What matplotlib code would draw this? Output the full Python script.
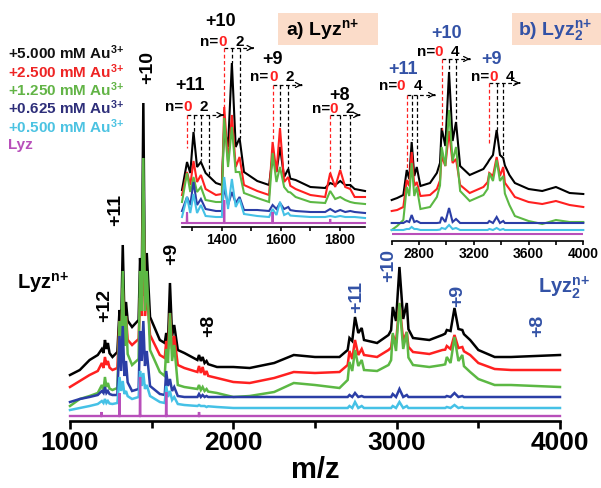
import numpy as np
import matplotlib
matplotlib.use("Agg")
import matplotlib.pyplot as plt
from matplotlib.patches import Rectangle

plt.rcParams['font.family'] = ['Liberation Sans', 'DejaVu Sans']
plt.rcParams['font.weight'] = 'bold'
plt.rcParams['mathtext.fontset'] = 'custom'
plt.rcParams['mathtext.rm'] = 'Liberation Sans:bold'
plt.rcParams['mathtext.it'] = 'Liberation Sans:bold'
plt.rcParams['mathtext.bf'] = 'Liberation Sans:bold'

W, H = 601, 488

# ---------------- data ----------------
conc_labels = ["+5.000 mM Au$^{3{+}}$", "+2.500 mM Au$^{3{+}}$", "+1.250 mM Au$^{3{+}}$",
               "+0.625 mM Au$^{3{+}}$", "+0.500 mM Au$^{3{+}}$", "Lyz"]
trace_colors = ["#000000", "#ff2020", "#5cb844", "#2b3ea6", "#45c1e6", "#b84fba"]
label_colors = ["#111111", "#ee2424", "#62b446", "#2e2f7a", "#4cc3e2", "#b84fba"]

# main panel: baseline / valley points and peak tops
main_grid = [1000, 1060, 1120, 1170, 1205, 1223, 1260, 1290, 1313, 1333, 1380, 1420, 1439,
             1459, 1490, 1550, 1580, 1600, 1625, 1660, 1700, 1780, 1801, 1824, 1900, 2000,
             2100, 2250, 2370, 2500, 2650, 2700, 2728, 2765, 2800, 2880, 2950, 2996, 3040,
             3100, 3200, 3280, 3330, 3378, 3450, 3500, 3600, 3700, 4000]
main_base = [
    [46, 51, 61, 66, 68, 72, 64, 69, 95, 105, 94, 101, 130, 125, 104, 81, 78, 80, 85, 71,
     68, 61, 60, 58, 54, 54, 53, 58, 66, 64, 64, 71, 80, 88, 81, 78, 86, 100, 102, 83,
     81, 86, 90, 92, 81, 71, 64, 64, 66],
    [34, 40, 46, 50, 53, 56, 51, 53, 80, 85, 76, 82, 105, 105, 86, 66, 63, 72, 72, 56,
     53, 49, 48, 46, 43, 39, 38, 43, 49, 48, 49, 56, 62, 66, 66, 64, 71, 78, 80, 69,
     67, 71, 72, 73, 66, 58, 52, 51, 51],
    [15, 22, 25, 28, 31, 34, 31, 33, 70, 75, 56, 62, 110, 110, 71, 49, 45, 58, 60, 36,
     34, 32, 31, 30, 28, 24, 25, 29, 38, 36, 33, 41, 50, 55, 51, 50, 56, 70, 72, 56,
     54, 56, 58, 60, 49, 42, 36, 36, 34],
    [19, 22, 24, 26, 28, 28, 26, 26, 50, 45, 30, 32, 60, 55, 35, 27, 26, 35, 30, 25,
     24, 24, 24, 24, 24, 24, 24, 24, 24, 24, 24, 24, 24, 24, 24, 24, 24, 24, 24, 24,
     24, 24, 24, 24, 24, 24, 24, 24, 24],
    [11, 13, 15, 17, 18, 18, 17, 18, 30, 27, 22, 24, 35, 32, 25, 19, 18, 24, 21, 17,
     16, 15, 15, 15, 14, 13, 13, 13, 13, 13, 13, 13, 13, 13, 13, 13, 13, 13, 13, 13,
     13, 13, 13, 13, 13, 13, 13, 13, 13],
]
main_peaks = [1195, 1214, 1232, 1303, 1323, 1343, 1429, 1449, 1470, 1589, 1612, 1638,
              1790, 1812, 1836, 2711, 2745, 2786, 2976, 3017, 3062, 3307, 3354, 3402]
main_tops = [
    [72, 81, 78, 111, 176, 119, 163, 318, 168, 88, 138, 96, 66, 64, 60,
     83, 104, 93, 114, 154, 118, 91, 113, 91],
    [58, 64, 60, 100, 133, 105, 123, 230, 130, 80, 108, 85, 55, 54, 50,
     70, 81, 72, 86, 118, 89, 75, 86, 74],
    [36, 44, 38, 100, 150, 105, 150, 263, 150, 72, 108, 76, 36, 34, 32,
     59, 71, 61, 88, 118, 89, 64, 84, 66],
    [30, 34, 30, 85, 95, 60, 90, 100, 70, 50, 42, 34, 27, 26, 25,
     26, 28, 25, 27, 32, 26, 25, 28, 25],
    [20, 22, 20, 44, 40, 30, 50, 48, 36, 35, 30, 24, 16, 15, 14,
     15, 19, 15, 15, 19, 15, 14, 16, 14],
]
lyz_level = [5, 4, 7]
lyz_mz = [1192, 1303, 1429, 1589, 1790]
lyz_main_top = [9, 28, 44, 29, 9]

mono_labels = ["+12", "+11", "+10", "+9", "+8"]
mono_lab_mz = [1214, 1282, 1478, 1625, 1851]
mono_lab_y = [116, 211, 354, 167, 95]
dimer_labels = ["+11", "+10", "+9", "+8"]
dimer_lab_mz = [2757, 2953, 3376, 3866]
dimer_lab_y = [124, 156, 125, 95]

# inset a) monomer region
a_grid = [1265, 1293, 1316, 1345, 1380, 1400, 1421, 1447, 1475, 1520, 1560, 1585, 1611,
          1650, 1700, 1750, 1784, 1818, 1850, 1885]
a_base = [
    [37, 54, 60, 54, 44, 42, 80, 80, 55, 46, 42, 55, 50, 47, 40, 39, 42, 42, 38, 36],
    [32, 42, 45, 38, 32, 33, 65, 60, 42, 36, 32, 55, 45, 38, 32, 30, 40, 40, 30, 30],
    [25, 35, 35, 27, 25, 25, 60, 55, 34, 29, 25, 45, 40, 30, 25, 24, 28, 27, 24, 23],
    [16, 22, 22, 18, 16, 16, 22, 24, 17, 17, 16, 18, 18, 16, 15, 15, 15, 15, 15, 14],
    [10, 14, 14, 11, 10, 10, 18, 20, 13, 11, 10, 12, 12, 11, 10, 10, 10, 10, 10, 9],
]
a_peaks = [1282, 1304, 1329, 1408, 1434, 1460, 1572, 1597, 1625, 1767, 1801, 1835]
a_tops = [
    [65, 95, 65, 100, 164, 89, 70, 80, 58, 44, 46, 42],
    [55, 66, 52, 120, 112, 70, 85, 99, 50, 54, 57, 38],
    [54, 50, 40, 109, 100, 55, 74, 60, 35, 36, 30, 25],
    [30, 45, 28, 40, 35, 30, 22, 24, 20, 18, 17, 16],
    [30, 33, 22, 50, 48, 28, 18, 25, 14, 11, 11, 10],
]
a_lyz_mz = [1282, 1408, 1572, 1767]
a_lyz_top = [15, 27, 15, 8]

a_charge = ["+11", "+10", "+9", "+8"]
a_charge_mz = [1293, 1394, 1571, 1797]
a_charge_y = [142, 206, 167, 132]
a_n_right = [1270, 1389, 1558, 1767]
a_zero_mz = [1284, 1401, 1574, 1778]
a_last_mz = [1338, 1461, 1631, 1834]
a_n_y = [120, 185, 150, 118]
a_arrow_y = [112, 179, 142, 112]
a_arrow_end = [1405, 1507, 1671, 1868]
a_guide_mz = [[1282, 1304, 1329, 1355], [1408, 1434, 1460], [1572, 1597, 1625], [1767, 1801, 1835]]
a_guide_low = [[79, 95, 67, 50], [117, 164, 89], [87, 99, 57], [52, 57, 40]]

# inset b) dimer region
b_grid = [2600, 2640, 2685, 2728, 2765, 2810, 2880, 2930, 2992, 3045, 3100, 3170, 3270,
          3340, 3391, 3460, 3500, 3600, 3700, 3800, 3900, 4000]
b_base = [
    [41, 43, 46, 62, 65, 55, 58, 68, 95, 100, 75, 66, 72, 86, 86, 66, 58, 52, 50, 54, 48, 47],
    [30, 31, 34, 55, 55, 45, 46, 52, 75, 78, 56, 48, 54, 65, 65, 52, 44, 39, 37, 40, 36, 34],
    [11, 15, 21, 45, 45, 32, 34, 44, 75, 80, 50, 40, 46, 60, 60, 36, 25, 20, 17, 21, 19, 19],
    [18, 18, 18, 19, 19, 18, 18, 18, 19, 19, 18, 18, 18, 18, 18, 18, 18, 18, 18, 18, 18, 18],
    [11, 11, 11, 12, 12, 11, 11, 11, 12, 12, 11, 11, 11, 11, 11, 11, 11, 11, 11, 11, 11, 11],
]
b_peaks = [2710, 2746, 2783, 2965, 3019, 3070, 3313, 3367, 3415]
b_tops = [
    [71, 99, 74, 113, 169, 119, 81, 111, 83],
    [61, 89, 59, 85, 110, 82, 68, 84, 74],
    [54, 78, 54, 94, 131, 94, 68, 81, 65],
    [20, 26, 20, 24, 33, 22, 20, 24, 20],
    [12, 14, 12, 13, 16, 13, 12, 13, 12],
]

b_charge = ["+11", "+10", "+9"]
b_charge_mz = [2685, 3002, 3330]
b_charge_y = [171, 208, 181]
b_n_right = [2637, 2916, 3313]
b_zero_mz = [2666, 2941, 3342]
b_last_mz = [2790, 3062, 3464]
b_n_y = [155, 189, 164]
b_arrow_y = [146, 182, 158]
b_arrow_end = [2916, 3172, 3537]
b_guide_mz = [[2710, 2746, 2783], [2965, 3019, 3070], [3313, 3367, 3415]]
b_guide_low = [[73, 101, 78], [111, 169, 119], [96, 111, 84]]

BLUE_TXT = "#3352a6"
RED_TXT = "#ff2020"


def fx(x):
    return x / W


def fy(y):
    return 1 - y / H


def spectrum(ax, grid, base, pk_mz, pk_top, hw, color, lw):
    # polyline through baseline/valley points and peak tops; isolated peak
    # sides get a foot on the baseline hw away
    pts = list(zip(grid, base)) + list(zip(pk_mz, pk_top))
    others = sorted(m for m, _ in pts)
    for p in pk_mz:
        for side in (-1, 1):
            near = [abs(m - p) for m in others if (m - p) * side > 0]
            if not near or min(near) > 2.5 * hw:
                pts.append((p + side * hw, np.interp(p + side * hw, grid, base)))
    pts.sort()
    xs, ys = zip(*pts)
    ax.plot(xs, ys, color=color, lw=lw, solid_joinstyle='miter', clip_on=False)


def style_axis(ax, lw):
    for s in ['left', 'right', 'top']:
        ax.spines[s].set_visible(False)
    ax.spines['bottom'].set_linewidth(lw)
    ax.set_yticks([])
    ax.patch.set_alpha(0)


def guides(ax, charge, cmz, cy, nright, zmz, lmz, ny, ay, aend, gmz, glow, ccolor, last):
    for i in range(len(charge)):
        ax.text(cmz[i], cy[i], charge[i], color=ccolor, fontsize=13, ha='center', va='center')
        ax.text(nright[i], ny[i], "n=", fontsize=11, ha='right', va='center')
        ax.text(zmz[i], ny[i], "0", color=RED_TXT, fontsize=11, ha='center', va='center')
        ax.text(lmz[i], ny[i], last, fontsize=11, ha='center', va='center')
        x0 = gmz[i][0]
        ax.plot([x0, aend[i]], [ay[i], ay[i]], color='k', lw=0.9, ls=(0, (3, 2)))
        ax.annotate("", xy=(aend[i], ay[i]), xytext=(aend[i] - 1, ay[i]),
                    arrowprops=dict(arrowstyle='->', color='k', lw=0.9, mutation_scale=9))
        for j, (m, lo) in enumerate(zip(gmz[i], glow[i])):
            ax.plot([m, m], [ay[i], lo], color=RED_TXT if j == 0 else 'k',
                    lw=0.9, ls=(0, (3, 2)))


fig = plt.figure(figsize=(W / 100, H / 100), dpi=100)

# ---------------- main panel ----------------
ax = fig.add_axes([fx(70), fy(421), (560 - 70) / W, 421 / H])
ax.set_xlim(1000, 4000)
ax.set_ylim(0, 421)
style_axis(ax, 1.9)
for k in range(5):
    spectrum(ax, main_grid, main_base[k], main_peaks, main_tops[k], 10, trace_colors[k], 1.8)
spectrum(ax, main_grid, [lyz_level[0]] * len(main_grid), lyz_mz, lyz_main_top, 1.5,
         trace_colors[5], 1.7)
ax.set_xticks([1000, 2000, 3000, 4000])
ax.set_xticks([1500, 2500, 3500], minor=True)
ax.tick_params(axis='x', which='major', direction='out', length=6, width=1.9,
               labelsize=19, pad=1)
ax.tick_params(axis='x', which='minor', direction='out', length=5, width=1.9)
for s, m, y in zip(mono_labels, mono_lab_mz, mono_lab_y):
    ax.text(m, y, s, rotation=90, fontsize=14, ha='center', va='center')
for s, m, y in zip(dimer_labels, dimer_lab_mz, dimer_lab_y):
    ax.text(m, y, s, rotation=90, fontsize=14, ha='center', va='center', color=BLUE_TXT)

# ---------------- inset a ----------------
axa = fig.add_axes([fx(182), fy(227), (365 - 182) / W, 227 / H])
axa.set_xlim(1265, 1885)
axa.set_ylim(0, 227)
style_axis(axa, 1.2)
for k in range(5):
    spectrum(axa, a_grid, a_base[k], a_peaks, a_tops[k], 7, trace_colors[k], 1.5)
spectrum(axa, a_grid, [lyz_level[1]] * len(a_grid), a_lyz_mz, a_lyz_top, 1.0,
         trace_colors[5], 1.5)
axa.set_xticks([1400, 1600, 1800])
axa.set_xticks([1300, 1500, 1700], minor=True)
axa.tick_params(axis='x', which='both', direction='out', length=3, width=1.2,
                labelsize=10, pad=1)
guides(axa, a_charge, a_charge_mz, a_charge_y, a_n_right, a_zero_mz, a_last_mz, a_n_y,
       a_arrow_y, a_arrow_end, a_guide_mz, a_guide_low, 'k', "2")

# ---------------- inset b ----------------
axb = fig.add_axes([fx(391.7), fy(241), (583.3 - 391.7) / W, 241 / H])
axb.set_xlim(2600, 4000)
axb.set_ylim(0, 241)
style_axis(axb, 1.2)
for k in range(5):
    spectrum(axb, b_grid, b_base[k], b_peaks, b_tops[k], 12, trace_colors[k], 1.5)
axb.plot([2600, 4000], [lyz_level[2]] * 2, color=trace_colors[5], lw=1.5)
axb.set_xticks([2800, 3200, 3600, 4000])
axb.set_xticks([2600, 3000, 3400, 3800], minor=True)
axb.tick_params(axis='x', which='both', direction='out', length=3, width=1.2,
                labelsize=10, pad=1)
guides(axb, b_charge, b_charge_mz, b_charge_y, b_n_right, b_zero_mz, b_last_mz, b_n_y,
       b_arrow_y, b_arrow_end, b_guide_mz, b_guide_low, BLUE_TXT, "4")

# ---------------- figure texts ----------------
for i, (s, c) in enumerate(zip(conc_labels, label_colors)):
    fig.text(fx(8), fy(53 + 18.4 * i), s, color=c, fontsize=11, ha='left', va='center')

fig.add_artist(Rectangle((fx(278), fy(45)), 100 / W, 32 / H, transform=fig.transFigure,
                         facecolor='#fbdcc9', edgecolor='none', zorder=0))
fig.add_artist(Rectangle((fx(512), fy(45)), 89 / W, 32 / H, transform=fig.transFigure,
                         facecolor='#fbdcc9', edgecolor='none', zorder=0))
fig.text(fx(286), fy(30), "a) Lyz$^{n{+}}$", fontsize=14, ha='left', va='center')
fig.text(fx(518), fy(30), "b) Lyz$_2^{n{+}}$", fontsize=14, ha='left', va='center',
         color=BLUE_TXT)
fig.text(fx(17), fy(283), "Lyz$^{n{+}}$", fontsize=14.5, ha='left', va='center')
fig.text(fx(538), fy(288), "Lyz$_2^{n{+}}$", fontsize=14.5, ha='left', va='center',
         color=BLUE_TXT)
fig.text(fx(315), fy(470), "m/z", fontsize=21, ha='center', va='center')

fig.savefig("out.png", dpi=100)
